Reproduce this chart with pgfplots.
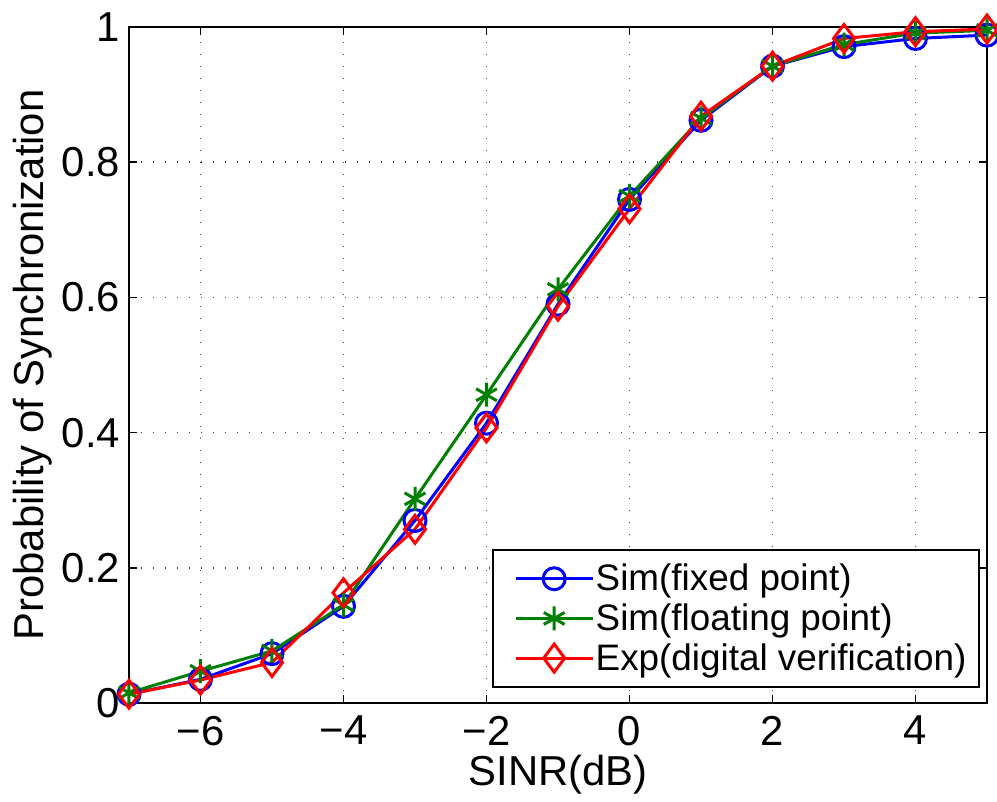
\documentclass[border=0pt]{standalone}
\usepackage{fontspec}
\setmainfont{Liberation Sans}
\usepackage{pgfplots}
\pgfplotsset{compat=1.18}
\definecolor{mblue}{rgb}{0,0,1}
\definecolor{mgreen}{rgb}{0,0.5,0}
\definecolor{mred}{rgb}{1,0,0}
\newcommand{\legtxt}[1]{#1\hspace*{-5bp}}
\begin{document}
\begin{tikzpicture}
\begin{axis}[
  name=ax,
  scale only axis,
  width=429bp, height=338bp,
  xmin=-7, xmax=5, ymin=0, ymax=1,
  xtick={-6,-4,-2,0,2,4},
  xticklabels={−6,−4,−2,0,2,4},
  ytick={0,0.2,0.4,0.6,0.8,1},
  yticklabels={0,0.2,0.4,0.6,0.8,1},
  tick align=inside,
  major tick length=4bp,
  every tick/.style={black, line width=0.8bp},
  axis line style={line width=1bp},
  grid=major,
  major grid style={black!75, line width=0.7bp, dash pattern=on 0.7bp off 5.3bp},
  tick label style={font=\fontsize{21}{25}\selectfont},
  /pgf/number format/assume math mode=true,
  xticklabel style={yshift=-3bp},
  yticklabel style={xshift=-1bp},
  xlabel={SINR(dB)},
  ylabel={Probability of Synchronization},
  label style={font=\fontsize{21}{25}\selectfont},
  xlabel style={yshift=2bp},
  ylabel style={yshift=-2bp},
  clip=false,
  legend cell align=left,
  legend style={at={(rel axis cs:1,0)}, anchor=south east, xshift=-3.5bp, yshift=7.5bp,
    font=\fontsize{18.5}{23}\selectfont, draw=black, line width=1bp,
    inner xsep=10.5bp, inner ysep=4.5bp, row sep=0bp,
    nodes={inner xsep=0.75bp, inner ysep=2.5bp}},
  legend image code/.code={\draw[mark repeat=2,mark phase=2] plot coordinates {(0bp,0bp)(19.25bp,0bp)(38.5bp,0bp)};},
  every axis plot/.append style={line width=1.5bp},
]
\addplot[color=mblue, mark=o, mark size=5.5bp, mark options={solid}] coordinates {
(-7,0.013)(-6,0.035)(-5,0.073)(-4,0.143)(-3,0.27)(-2,0.414)(-1,0.59)(0,0.745)(1,0.862)(2,0.942)(3,0.971)(4,0.983)(5,0.988)};
\addlegendentry{\legtxt{Sim(fixed point)}}
\addplot[color=mgreen, mark=asterisk, mark size=6bp, mark options={solid}] coordinates {
(-7,0.015)(-6,0.047)(-5,0.077)(-4,0.145)(-3,0.302)(-2,0.456)(-1,0.612)(0,0.75)(1,0.865)(2,0.942)(3,0.974)(4,0.991)(5,0.995)};
\addlegendentry{\legtxt{Sim(floating point)}}
\addplot[color=mred, mark=diamond, mark size=7bp, mark options={solid}] coordinates {
(-7,0.013)(-6,0.034)(-5,0.06)(-4,0.163)(-3,0.257)(-2,0.407)(-1,0.587)(0,0.731)(1,0.868)(2,0.942)(3,0.983)(4,0.993)(5,0.997)};
\addlegendentry{\legtxt{Exp(digital verification)}}
\end{axis}
\pgfresetboundingbox
\path ([shift={(-64.5bp,-49.5bp)}]ax.south west) rectangle ([shift={(5bp,13.5bp)}]ax.north east);
\end{tikzpicture}
\end{document}
